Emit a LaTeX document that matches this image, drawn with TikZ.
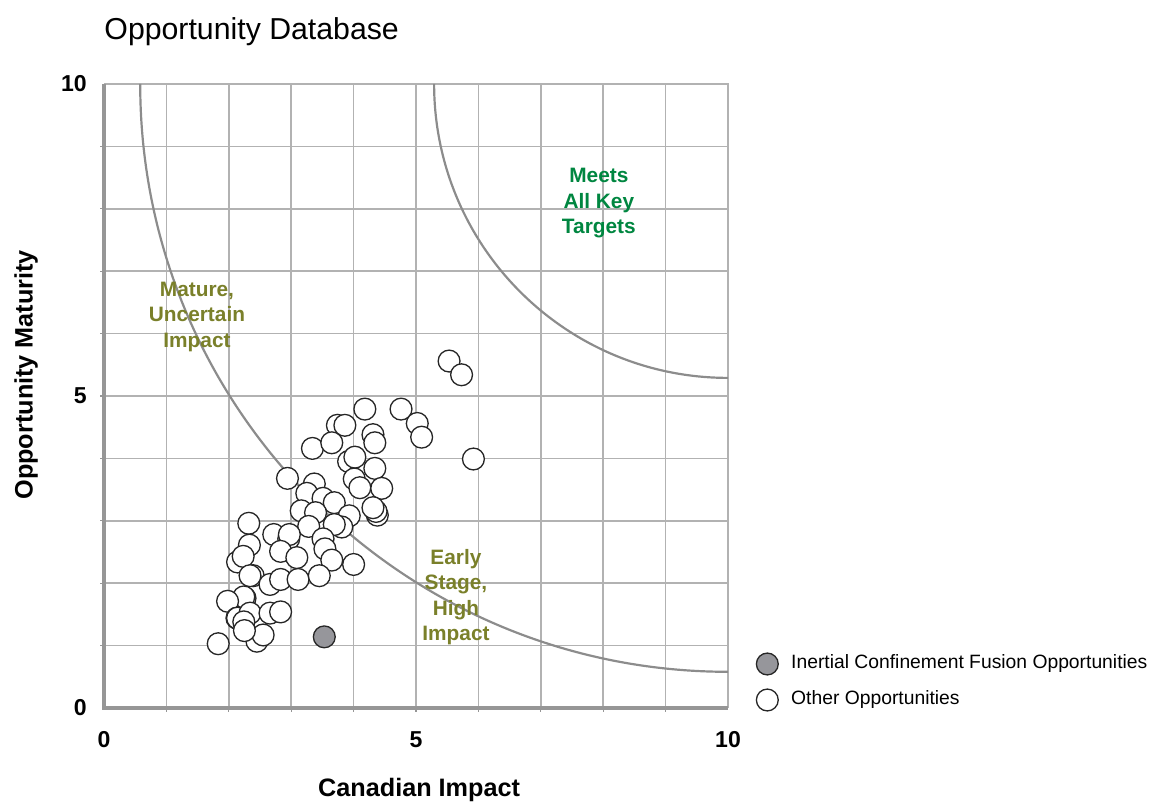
\documentclass[tikz,border=0pt]{standalone}
\usepackage{fontspec}
\setmainfont{Liberation Sans}
\usetikzlibrary{positioning}

\definecolor{gridgray}{RGB}{178,178,178}
\definecolor{axisgray}{RGB}{150,150,150}
\definecolor{curvegray}{RGB}{140,140,140}
\definecolor{icfgray}{RGB}{150,150,155}
\definecolor{olivetxt}{RGB}{122,128,42}
\definecolor{keygreen}{RGB}{0,134,64}

\begin{document}
\begin{tikzpicture}[x=1cm,y=1cm,
  opp/.style={circle,draw=black!85,line width=0.6pt,fill=white,inner sep=0pt,minimum size=0.35cm},
  icf/.style={opp,fill=icfgray},
  zone/.style={align=center,font=\bfseries\fontsize{9.5}{11.6}\selectfont},
  tick label/.style={font=\bfseries\fontsize{10.5}{12}\selectfont,inner sep=0pt},
  axis title/.style={font=\bfseries\fontsize{11.5}{14}\selectfont},
  legend text/.style={font=\fontsize{8.8}{11}\selectfont,inner sep=0pt}]

  \useasboundingbox (-1.667,-1.538) rectangle (16.795,11.346);

  % grid and frame
  \foreach \k in {1,...,9} {
    \draw[gridgray,line width=0.7pt] (\k,0) -- (\k,10);
    \draw[gridgray,line width=0.7pt] (0,\k) -- (10,\k);
    \draw[axisgray,line width=0.6pt] (\k,0) -- (\k,-0.06);
    \draw[axisgray,line width=0.6pt] (0,\k) -- (-0.06,\k);
  }
  \draw[gridgray,line width=0.9pt] (0,10) -- (10,10) -- (10,0);
  \draw[axisgray,line width=1.4pt] (0,10) -- (0,0) -- (10,0);

  % target curves
  \draw[curvegray,line width=1pt] (0.58,10) arc[start angle=180,end angle=270,radius=9.42];
  \draw[curvegray,line width=1pt] (5.29,10) arc[start angle=180,end angle=270,radius=4.71];

  \node[anchor=base west,inner sep=0pt,font=\fontsize{13.8}{16}\selectfont] (title) at (0,10.72) {Opportunity Database};

  \foreach \v in {0,5,10} {
    \node[tick label,anchor=east] (ylab\v) at (-0.27,\v) {\v};
    \node[tick label] (xlab\v) at (\v,-0.51) {\v};
  }
  \node[axis title] (xtitle) at (5.05,-1.31) {Canadian Impact};
  \node[axis title,rotate=90] (ytitle) at (-1.25,5.34) {Opportunity Maturity};

  \node[zone,text=olivetxt] (mature) at (1.49,6.27) {Mature,\\Uncertain\\Impact};
  \node[zone,text=olivetxt] (early) at (5.64,1.78) {Early\\Stage,\\High\\Impact};
  \node[zone,text=keygreen] (meets) at (7.93,8.09) {Meets\\All Key\\Targets};

  % opportunities
  \foreach \px/\py [count=\i] in {
    5.53/5.56,5.73/5.34,4.18/4.79,4.76/4.79,5.02/4.56,5.09/4.34,5.92/3.99,
    3.74/4.53,3.86/4.53,4.31/4.38,4.34/4.25,3.34/4.16,3.65/4.25,
    3.92/3.95,4.02/4.02,4.34/3.84,4.01/3.67,4.10/3.53,4.45/3.52,
    4.38/3.09,4.36/3.15,4.31/3.21,
    2.94/3.68,3.37/3.59,3.25/3.44,3.51/3.36,3.69/3.29,3.16/3.16,3.39/3.13,
    3.93/3.08,3.81/2.90,3.69/2.94,3.28/2.91,
    2.32/2.96,2.72/2.78,2.96/2.71,2.97/2.78,3.51/2.71,3.54/2.55,2.33/2.61,
    2.83/2.51,3.09/2.41,3.65/2.37,4.00/2.30,2.14/2.34,2.23/2.43,
    2.39/2.12,2.34/2.12,2.66/1.98,2.83/2.06,3.11/2.06,3.45/2.12,
    2.26/1.76,2.24/1.78,1.98/1.71,2.13/1.44,2.14/1.44,2.34/1.52,2.24/1.38,
    2.66/1.52,2.83/1.54,2.45/1.07,2.55/1.17,2.25/1.24,1.83/1.03}
    \node[opp] (o\i) at (\px,\py) {};
  \node[icf] (icf1) at (3.53,1.14) {};

  % legend
  \node[icf] (lgicf) at (10.63,0.705) {};
  \node[opp] (lgoth) at (10.63,0.128) {};
  \node[legend text,right=0.19cm of lgicf] (lgicftxt) {Inertial Confinement Fusion Opportunities};
  \node[legend text,right=0.19cm of lgoth] (lgothtxt) {Other Opportunities};
\end{tikzpicture}
\end{document}
